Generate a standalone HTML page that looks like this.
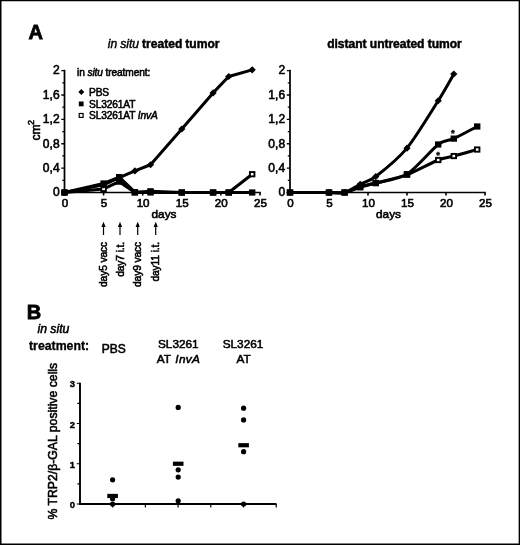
<!DOCTYPE html>
<html><head><meta charset="utf-8"><title>Figure</title><style>
html,body{margin:0;padding:0;background:#fff}
svg{display:block}
text{font-family:"Liberation Sans",sans-serif;fill:#000}
.t{font-size:11.6px;stroke:#000;stroke-width:.6px}
.b{font-weight:bold}
.i{font-style:italic}
</style></head><body>
<svg width="520" height="545" viewBox="0 0 520 545">
<rect x="0" y="0" width="520" height="545" fill="#fff"/>
<path d="M0 0H520V545H0ZM1.5 1.2V543.45H518.65V1.2Z" fill="#000" fill-rule="evenodd"/>

<path d="M64.5 69.8V193.25" fill="none" stroke="#000" stroke-width="1.75"/>
<path d="M64.5 192.5H260.8" fill="none" stroke="#000" stroke-width="1.5"/>
<path d="M61.3 192.5H64.5M62.3 180.31H64.5M61.3 168.12H64.5M62.3 155.93H64.5M61.3 143.74H64.5M62.3 131.55H64.5M61.3 119.36H64.5M62.3 107.17H64.5M61.3 94.98H64.5M62.3 82.79H64.5M61.3 70.6H64.5" fill="none" stroke="#000" stroke-width="1.3"/>
<path d="M103.6 192.5V195.6M142.7 192.5V195.6M181.8 192.5V195.6M220.9 192.5V195.6M260 192.5V195.6" fill="none" stroke="#000" stroke-width="1.6"/>
<text class="t" style="font-size:12.3px" transform="translate(59.6 196.3) scale(0.98 1)" text-anchor="end">0</text>
<text class="t" style="font-size:12.3px" transform="translate(59.6 171.92) scale(0.98 1)" text-anchor="end">0,4</text>
<text class="t" style="font-size:12.3px" transform="translate(59.6 147.54) scale(0.98 1)" text-anchor="end">0,8</text>
<text class="t" style="font-size:12.3px" transform="translate(59.6 123.16) scale(0.98 1)" text-anchor="end">1,2</text>
<text class="t" style="font-size:12.3px" transform="translate(59.6 98.78) scale(0.98 1)" text-anchor="end">1,6</text>
<text class="t" style="font-size:12.3px" transform="translate(59.6 74.4) scale(0.98 1)" text-anchor="end">2</text>
<text class="t" transform="translate(64.9 206.9) scale(1.0 1)" text-anchor="middle">0</text>
<text class="t" transform="translate(104 206.9) scale(1.0 1)" text-anchor="middle">5</text>
<text class="t" transform="translate(143.1 206.9) scale(1.0 1)" text-anchor="middle">10</text>
<text class="t" transform="translate(182.2 206.9) scale(1.0 1)" text-anchor="middle">15</text>
<text class="t" transform="translate(221.3 206.9) scale(1.0 1)" text-anchor="middle">20</text>
<text class="t" transform="translate(260.4 206.9) scale(1.0 1)" text-anchor="middle">25</text>
<polyline points="64.5,192.5 103.6,188.96 119.24,181.65 134.88,192.5 150.52,192.5 181.8,192.5 213.08,192.5 228.72,192.5 252.18,174.22" fill="none" stroke="#000" stroke-width="3" stroke-linejoin="round"/>
<rect x="62.25" y="190.35" width="4.5" height="4.3" fill="#fff" stroke="#000" stroke-width="1.9"/>
<rect x="101.35" y="186.81" width="4.5" height="4.3" fill="#fff" stroke="#000" stroke-width="1.9"/>
<rect x="116.99" y="179.5" width="4.5" height="4.3" fill="#000" stroke="#000" stroke-width="1.9"/>
<rect x="132.63" y="190.35" width="4.5" height="4.3" fill="#fff" stroke="#000" stroke-width="1.9"/>
<rect x="148.27" y="190.35" width="4.5" height="4.3" fill="#fff" stroke="#000" stroke-width="1.9"/>
<rect x="179.55" y="190.35" width="4.5" height="4.3" fill="#fff" stroke="#000" stroke-width="1.9"/>
<rect x="210.83" y="190.35" width="4.5" height="4.3" fill="#fff" stroke="#000" stroke-width="1.9"/>
<rect x="226.47" y="190.35" width="4.5" height="4.3" fill="#fff" stroke="#000" stroke-width="1.9"/>
<rect x="249.93" y="172.06" width="4.5" height="4.3" fill="#fff" stroke="#000" stroke-width="1.9"/>
<polyline points="64.5,192.5 103.6,184.88 119.24,177.57 134.88,170.92 150.52,164.77 181.8,128.99 213.08,92.91 228.72,76.51 252.18,69.87" fill="none" stroke="#000" stroke-width="3" stroke-linejoin="round"/>
<path d="M60.9 192.5L64.5 188.9L68.1 192.5L64.5 196.1Z" fill="#000"/>
<path d="M100 184.88L103.6 181.28L107.2 184.88L103.6 188.48Z" fill="#000"/>
<path d="M115.64 177.57L119.24 173.97L122.84 177.57L119.24 181.17Z" fill="#000"/>
<path d="M131.28 170.92L134.88 167.32L138.48 170.92L134.88 174.52Z" fill="#000"/>
<path d="M146.92 164.77L150.52 161.17L154.12 164.77L150.52 168.37Z" fill="#000"/>
<path d="M178.2 128.99L181.8 125.39L185.4 128.99L181.8 132.59Z" fill="#000"/>
<path d="M209.48 92.91L213.08 89.31L216.68 92.91L213.08 96.51Z" fill="#000"/>
<path d="M225.12 76.51L228.72 72.91L232.32 76.51L228.72 80.11Z" fill="#000"/>
<path d="M248.58 69.87L252.18 66.27L255.78 69.87L252.18 73.47Z" fill="#000"/>
<polyline points="64.5,192.5 103.6,183.48 119.24,177.08 134.88,192.2 150.52,191.28 181.8,192.5 213.08,192.5 228.72,192.5 252.18,192.5" fill="none" stroke="#000" stroke-width="3" stroke-linejoin="round"/>
<rect x="61.3" y="189.4" width="6.4" height="6.2" fill="#000"/>
<rect x="100.4" y="180.38" width="6.4" height="6.2" fill="#000"/>
<rect x="116.04" y="173.98" width="6.4" height="6.2" fill="#000"/>
<rect x="131.68" y="189.1" width="6.4" height="6.2" fill="#000"/>
<rect x="147.32" y="188.18" width="6.4" height="6.2" fill="#000"/>
<rect x="178.6" y="189.4" width="6.4" height="6.2" fill="#000"/>
<rect x="209.88" y="189.4" width="6.4" height="6.2" fill="#000"/>
<rect x="225.52" y="189.4" width="6.4" height="6.2" fill="#000"/>
<rect x="248.98" y="189.4" width="6.4" height="6.2" fill="#000"/>
<path d="M290 69.8V193.25" fill="none" stroke="#000" stroke-width="1.75"/>
<path d="M290 192.5H485.8" fill="none" stroke="#000" stroke-width="1.5"/>
<path d="M286.8 192.5H290M287.8 180.31H290M286.8 168.12H290M287.8 155.93H290M286.8 143.74H290M287.8 131.55H290M286.8 119.36H290M287.8 107.17H290M286.8 94.98H290M287.8 82.79H290M286.8 70.6H290" fill="none" stroke="#000" stroke-width="1.3"/>
<path d="M329 192.5V195.6M368 192.5V195.6M407 192.5V195.6M446 192.5V195.6M485 192.5V195.6" fill="none" stroke="#000" stroke-width="1.6"/>
<text class="t" style="font-size:12.3px" transform="translate(285.1 196.3) scale(0.98 1)" text-anchor="end">0</text>
<text class="t" style="font-size:12.3px" transform="translate(285.1 171.92) scale(0.98 1)" text-anchor="end">0,4</text>
<text class="t" style="font-size:12.3px" transform="translate(285.1 147.54) scale(0.98 1)" text-anchor="end">0,8</text>
<text class="t" style="font-size:12.3px" transform="translate(285.1 123.16) scale(0.98 1)" text-anchor="end">1,2</text>
<text class="t" style="font-size:12.3px" transform="translate(285.1 98.78) scale(0.98 1)" text-anchor="end">1,6</text>
<text class="t" style="font-size:12.3px" transform="translate(285.1 74.4) scale(0.98 1)" text-anchor="end">2</text>
<text class="t" transform="translate(290.4 206.9) scale(1.0 1)" text-anchor="middle">0</text>
<text class="t" transform="translate(329.4 206.9) scale(1.0 1)" text-anchor="middle">5</text>
<text class="t" transform="translate(368.4 206.9) scale(1.0 1)" text-anchor="middle">10</text>
<text class="t" transform="translate(407.4 206.9) scale(1.0 1)" text-anchor="middle">15</text>
<text class="t" transform="translate(446.4 206.9) scale(1.0 1)" text-anchor="middle">20</text>
<text class="t" transform="translate(485.4 206.9) scale(1.0 1)" text-anchor="middle">25</text>
<path d="M290 192.5C295.07 192.5 321.9 192.5 329 192.5C336.1 192.5 340.54 193.57 344.6 192.5C348.66 191.43 356.14 186.35 360.2 184.27C364.26 182.2 369.72 181.23 375.8 176.53C381.88 171.83 398.89 157.98 407 148.13C415.11 138.28 432.12 110.41 438.2 100.77C444.28 91.14 451.77 77.49 453.8 74.01" fill="none" stroke="#000" stroke-width="3" stroke-linejoin="round"/>
<path d="M286.4 192.5L290 188.9L293.6 192.5L290 196.1Z" fill="#000"/>
<path d="M325.4 192.5L329 188.9L332.6 192.5L329 196.1Z" fill="#000"/>
<path d="M341 192.5L344.6 188.9L348.2 192.5L344.6 196.1Z" fill="#000"/>
<path d="M356.6 184.27L360.2 180.67L363.8 184.27L360.2 187.87Z" fill="#000"/>
<path d="M372.2 176.53L375.8 172.93L379.4 176.53L375.8 180.13Z" fill="#000"/>
<path d="M403.4 148.13L407 144.53L410.6 148.13L407 151.73Z" fill="#000"/>
<path d="M434.6 100.77L438.2 97.17L441.8 100.77L438.2 104.37Z" fill="#000"/>
<path d="M450.2 74.01L453.8 70.41L457.4 74.01L453.8 77.61Z" fill="#000"/>
<path d="M290 192.5C295.07 192.5 321.9 192.5 329 192.5C336.1 192.5 340.54 193.17 344.6 192.5C348.66 191.83 356.14 188.55 360.2 187.32C364.26 186.09 369.72 184.69 375.8 183.05C381.88 181.41 398.89 177.7 407 174.7C415.11 171.71 432.12 162.44 438.2 160.01C444.28 157.59 448.73 157.41 453.8 156.05C458.87 154.69 474.16 150.38 477.2 149.53" fill="none" stroke="#000" stroke-width="3" stroke-linejoin="round"/>
<rect x="287.75" y="190.35" width="4.5" height="4.3" fill="#fff" stroke="#000" stroke-width="1.9"/>
<rect x="326.75" y="190.35" width="4.5" height="4.3" fill="#fff" stroke="#000" stroke-width="1.9"/>
<rect x="342.35" y="190.35" width="4.5" height="4.3" fill="#fff" stroke="#000" stroke-width="1.9"/>
<rect x="357.95" y="185.17" width="4.5" height="4.3" fill="#fff" stroke="#000" stroke-width="1.9"/>
<rect x="373.55" y="180.9" width="4.5" height="4.3" fill="#fff" stroke="#000" stroke-width="1.9"/>
<rect x="404.75" y="172.55" width="4.5" height="4.3" fill="#fff" stroke="#000" stroke-width="1.9"/>
<rect x="435.95" y="157.86" width="4.5" height="4.3" fill="#fff" stroke="#000" stroke-width="1.9"/>
<rect x="451.55" y="153.9" width="4.5" height="4.3" fill="#fff" stroke="#000" stroke-width="1.9"/>
<rect x="474.95" y="147.38" width="4.5" height="4.3" fill="#fff" stroke="#000" stroke-width="1.9"/>
<path d="M290 192.5C295.07 192.5 321.9 192.5 329 192.5C336.1 192.5 340.54 193.29 344.6 192.5C348.66 191.71 356.14 187.63 360.2 186.41C364.26 185.18 369.72 184.64 375.8 183.05C381.88 181.47 398.89 179.23 407 174.22C415.11 169.2 432.12 149.1 438.2 144.47C444.28 139.84 448.73 140.96 453.8 138.62C458.87 136.28 474.16 128.07 477.2 126.49" fill="none" stroke="#000" stroke-width="3" stroke-linejoin="round"/>
<rect x="286.8" y="189.4" width="6.4" height="6.2" fill="#000"/>
<rect x="325.8" y="189.4" width="6.4" height="6.2" fill="#000"/>
<rect x="341.4" y="189.4" width="6.4" height="6.2" fill="#000"/>
<rect x="357" y="183.31" width="6.4" height="6.2" fill="#000"/>
<rect x="372.6" y="179.95" width="6.4" height="6.2" fill="#000"/>
<rect x="403.8" y="171.12" width="6.4" height="6.2" fill="#000"/>
<rect x="435" y="141.37" width="6.4" height="6.2" fill="#000"/>
<rect x="450.6" y="135.52" width="6.4" height="6.2" fill="#000"/>
<rect x="474" y="123.39" width="6.4" height="6.2" fill="#000"/>
<text x="163.7" y="48" text-anchor="middle" font-size="12.1" word-spacing="-.4"><tspan class="i" stroke="#000" stroke-width=".45">in situ</tspan><tspan class="b" stroke="#000" stroke-width=".45"> treated tumor</tspan></text>
<text x="394.5" y="48" text-anchor="middle" font-size="12.1" letter-spacing="-.05" class="b" stroke="#000" stroke-width=".45">distant untreated tumor</text>
<text x="28.5" y="39.3" font-size="20" class="b" stroke="#000" stroke-width=".8">A</text>
<text x="26.8" y="319.1" font-size="20" class="b" stroke="#000" stroke-width=".8">B</text>
<text class="t" transform="translate(40.3 140.6) rotate(-90)" style="font-size:12.2px;stroke-width:.55px">cm<tspan style="font-size:9px" dy="-6.2" dx="-.6">2</tspan></text>
<text class="t" x="164" y="218.3" text-anchor="middle" style="font-size:11.8px">days</text>
<text class="t" x="388.5" y="218.3" text-anchor="middle" style="font-size:11.8px">days</text>
<text x="77" y="75.6" font-size="10.2" letter-spacing="-.12" stroke="#000" stroke-width=".55">in <tspan class="i">situ</tspan> treatment:</text>
<path d="M78.3 92L81.3 89L84.3 92L81.3 95Z" fill="#000"/>
<rect x="78.8" y="101.5" width="4.8" height="4.8" fill="#000"/>
<rect x="79.2" y="113.5" width="3.9" height="3.9" fill="#fff" stroke="#000" stroke-width="1.2"/>
<text x="89" y="96" font-size="10.2" letter-spacing="-.14" stroke="#000" stroke-width=".55">PBS</text>
<text x="89" y="107.5" font-size="10.2" letter-spacing="-.14" stroke="#000" stroke-width=".55">SL3261AT</text>
<text x="89" y="119" font-size="10.2" letter-spacing="-.14" stroke="#000" stroke-width=".55">SL3261AT <tspan class="i">InvA</tspan></text>
<path d="M103.5 235V224" stroke="#000" stroke-width="1.2" fill="none"/><path d="M101.4 227L103.5 221.8L105.6 227Z" fill="#000"/>
<text transform="translate(107.0 242) rotate(-90)" text-anchor="end" font-size="10.2" letter-spacing="-.1" stroke="#000" stroke-width=".55">day5 vacc</text>
<path d="M120 235V224" stroke="#000" stroke-width="1.2" fill="none"/><path d="M117.9 227L120 221.8L122.1 227Z" fill="#000"/>
<text transform="translate(123.5 242) rotate(-90)" text-anchor="end" font-size="10.2" letter-spacing="-.1" stroke="#000" stroke-width=".55">day7 i.t.</text>
<path d="M137.7 235V224" stroke="#000" stroke-width="1.2" fill="none"/><path d="M135.6 227L137.7 221.8L139.79999999999998 227Z" fill="#000"/>
<text transform="translate(141.2 242) rotate(-90)" text-anchor="end" font-size="10.2" letter-spacing="-.1" stroke="#000" stroke-width=".55">day9 vacc</text>
<path d="M155.7 235V224" stroke="#000" stroke-width="1.2" fill="none"/><path d="M153.6 227L155.7 221.8L157.79999999999998 227Z" fill="#000"/>
<text transform="translate(159.2 242) rotate(-90)" text-anchor="end" font-size="10.2" letter-spacing="-.1" stroke="#000" stroke-width=".55">day11 i.t.</text>
<text x="438.2" y="157.8" font-size="9.5" text-anchor="middle" class="b" stroke="#000" stroke-width=".4">*</text>
<text x="452.9" y="136.1" font-size="9.5" text-anchor="middle" class="b" stroke="#000" stroke-width=".4">*</text>
<text x="37.5" y="333" font-size="12.2" class="i" stroke="#000" stroke-width=".55">in situ</text>
<text x="29" y="349.6" font-size="12.3" class="b" stroke="#000" stroke-width=".3">treatment:</text>
<text x="101.7" y="352.8" font-size="12" stroke="#000" stroke-width=".55">PBS</text>
<text x="178.3" y="348.3" font-size="11.8" stroke="#000" stroke-width=".55" text-anchor="middle">SL3261</text>
<text x="178.6" y="363.1" font-size="11.8" stroke="#000" stroke-width=".55" text-anchor="middle" word-spacing="1.2">AT <tspan class="i" letter-spacing=".35">InvA</tspan></text>
<text x="243" y="348" font-size="11.8" stroke="#000" stroke-width=".55" text-anchor="middle">SL3261</text>
<text x="243.7" y="363" font-size="11.8" stroke="#000" stroke-width=".55" text-anchor="middle">AT</text>
<path d="M80 382.65V504H276.5" fill="none" stroke="#000" stroke-width="1.9"/>
<path d="M76.8 504H80M77.4 483.88H80M76.8 463.75H80M77.4 443.62H80M76.8 423.5H80M77.4 403.38H80M76.8 383.25H80M112.7 504V507.5M145.4 504V507.5M178.1 504V507.5M210.8 504V507.5M243.5 504V507.5M276.2 504V507.5" fill="none" stroke="#000" stroke-width="1.2"/>
<text x="75" y="508" text-anchor="end" font-size="9.4" class="b" stroke="#000" stroke-width=".4">0</text>
<text x="75" y="467.75" text-anchor="end" font-size="9.4" class="b" stroke="#000" stroke-width=".4">1</text>
<text x="75" y="427.5" text-anchor="end" font-size="9.4" class="b" stroke="#000" stroke-width=".4">2</text>
<text x="75" y="387.25" text-anchor="end" font-size="9.4" class="b" stroke="#000" stroke-width=".4">3</text>
<text transform="translate(57.3 519.6) rotate(-90)" font-size="12.25" stroke="#000" stroke-width=".55">% TRP2/β-GAL positive cells</text>
<circle cx="112.6" cy="479.85" r="2.6" fill="#000"/>
<circle cx="112.6" cy="498.77" r="2.6" fill="#000"/>
<circle cx="112.6" cy="504" r="2.6" fill="#000"/>
<rect x="107.3" y="493.85" width="10.6" height="4.2" fill="#000"/>
<circle cx="178.2" cy="407.4" r="2.6" fill="#000"/>
<circle cx="178.2" cy="469.79" r="2.6" fill="#000"/>
<circle cx="178.2" cy="477.03" r="2.6" fill="#000"/>
<circle cx="178.2" cy="500.78" r="2.6" fill="#000"/>
<rect x="172.89999999999998" y="461.65" width="10.6" height="4.2" fill="#000"/>
<circle cx="243.6" cy="408.2" r="2.6" fill="#000"/>
<circle cx="243.6" cy="419.88" r="2.6" fill="#000"/>
<circle cx="243.6" cy="451.68" r="2.6" fill="#000"/>
<circle cx="243.6" cy="504" r="2.6" fill="#000"/>
<rect x="238.29999999999998" y="443.13" width="10.6" height="4.2" fill="#000"/>
</svg></body></html>
